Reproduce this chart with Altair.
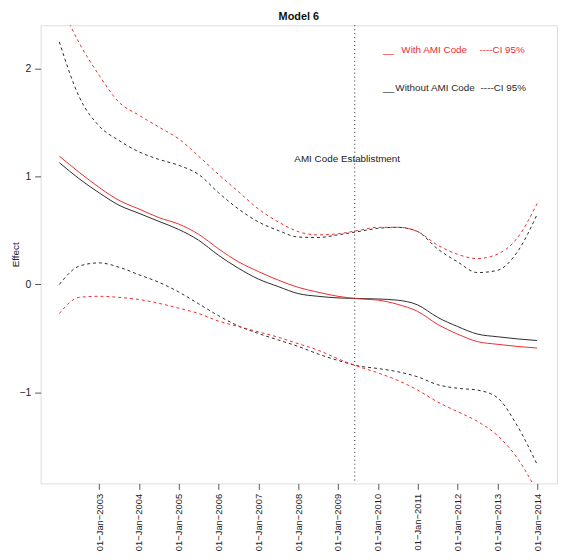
import altair as alt
import pandas as pd

# ---- data (x in decimal years) ----
years = [2002.0 + 0.5 * i for i in range(25)]

without_fit = [1.13, 0.98, 0.85, 0.735, 0.66, 0.585, 0.51, 0.41, 0.27, 0.15, 0.05, -0.02,
               -0.085, -0.11, -0.125, -0.13, -0.135, -0.146, -0.19, -0.305, -0.39, -0.46,
               -0.485, -0.505, -0.52]
without_upper = [2.25, 1.74, 1.47, 1.335, 1.23, 1.16, 1.105, 1.02, 0.85, 0.70, 0.58, 0.50,
                 0.44, 0.435, 0.46, 0.49, 0.52, 0.53, 0.49, 0.33, 0.21, 0.11, 0.13, 0.30, 0.65]
without_lower = [0.00, 0.17, 0.20, 0.16, 0.09, 0.02, -0.07, -0.18, -0.29, -0.385, -0.455,
                 -0.515, -0.575, -0.645, -0.705, -0.755, -0.78, -0.81, -0.857, -0.93, -0.963,
                 -0.98, -1.05, -1.31, -1.67]

with_fit = [1.19, 1.04, 0.90, 0.78, 0.70, 0.62, 0.56, 0.465, 0.33, 0.21, 0.12, 0.04,
            -0.027, -0.072, -0.11, -0.133, -0.145, -0.185, -0.25, -0.37, -0.46, -0.53,
            -0.555, -0.575, -0.59]
with_upper = [2.62, 2.24, 1.94, 1.69, 1.57, 1.46, 1.35, 1.19, 1.02, 0.86, 0.70, 0.58,
              0.49, 0.46, 0.47, 0.50, 0.53, 0.53, 0.49, 0.365, 0.28, 0.24, 0.28, 0.43, 0.75]
with_lower = [-0.27, -0.12, -0.11, -0.12, -0.14, -0.175, -0.22, -0.27, -0.34, -0.39, -0.44,
              -0.49, -0.55, -0.61, -0.69, -0.76, -0.82, -0.89, -0.98, -1.09, -1.18, -1.27,
              -1.40, -1.61, -1.92]

x_ticks = list(range(2003, 2015))
y_ticks = [-1, 0, 1, 2]
establishment_year = 2009.42

groups = ["without", "with"]
colors = ["#2a2a2a", "#f02a2a"]

fit_df = pd.DataFrame({
    "year": years * 2,
    "value": without_fit + with_fit,
    "group": ["without"] * 25 + ["with"] * 25,
    "curve": ["without_fit"] * 25 + ["with_fit"] * 25,
})
ci_df = pd.DataFrame({
    "year": years * 4,
    "value": without_upper + without_lower + with_upper + with_lower,
    "group": ["without"] * 50 + ["with"] * 50,
    "curve": ["wu"] * 25 + ["wl"] * 25 + ["hu"] * 25 + ["hl"] * 25,
})

FONT = "Liberation Sans"
xscale = alt.Scale(domain=[2001.53, 2014.5], nice=False, zero=False)
yscale = alt.Scale(domain=[-1.846, 2.404], nice=False, zero=False)
cscale = alt.Scale(domain=groups, range=colors)

x_axis = alt.Axis(values=x_ticks, labelExpr="'01\u2212Jan\u2212' + datum.value",
                  labelAngle=-90, labelFontSize=9.5, labelFont=FONT, labelColor="#222",
                  tickSize=6, tickColor="#555", labelPadding=4, domain=False, grid=False,
                  title=None, labelOverlap=False, labelFlush=False)
y_axis = alt.Axis(values=y_ticks, format="d", labelAngle=0, labelFontSize=10.5,
                  labelFont=FONT, labelColor="#222", tickSize=6, tickColor="#555",
                  labelPadding=4, domain=False, grid=False, title="Effect",
                  titleFont=FONT, titleFontSize=10, titleFontWeight="normal",
                  titleColor="#222", titleX=-20, titleY=232, titleAngle=270,
                  titleBaseline="bottom", titleAlign="center")

fits = alt.Chart(fit_df).mark_line(strokeWidth=1, interpolate="monotone", clip=True).encode(
    x=alt.X("year:Q", scale=xscale, axis=x_axis),
    y=alt.Y("value:Q", scale=yscale, axis=y_axis),
    color=alt.Color("group:N", scale=cscale, legend=None),
    detail="curve:N",
)
cis = alt.Chart(ci_df).mark_line(strokeWidth=1, strokeDash=[3, 3], interpolate="monotone",
                                 clip=True).encode(
    x=alt.X("year:Q", scale=xscale),
    y=alt.Y("value:Q", scale=yscale),
    color=alt.Color("group:N", scale=cscale, legend=None),
    detail="curve:N",
)
vline = alt.Chart(pd.DataFrame({"year": [establishment_year]})).mark_rule(
    color="#222", strokeWidth=1, strokeDash=[1, 3]).encode(
    x=alt.X("year:Q", scale=xscale))

est_text = alt.Chart(pd.DataFrame({"x": [2009.23], "y": [1.16],
                                   "t": ["AMI Code Establistment"]})).mark_text(
    align="center", baseline="middle", fontSize=10, font=FONT, color="#222").encode(
    x=alt.X("x:Q", scale=xscale), y=alt.Y("y:Q", scale=yscale), text="t:N")

legend_df = pd.DataFrame({
    "x": [2010.13, 2010.59, 2012.55, 2010.13, 2010.44, 2012.58],
    "y": [2.178, 2.178, 2.178, 1.825, 1.825, 1.825],
    "t": ["__", "With AMI Code", "----CI 95%", "__", "Without AMI Code", "----CI 95%"],
    "group": ["with"] * 3 + ["without"] * 3,
})
legend_text = alt.Chart(legend_df).mark_text(
    align="left", baseline="middle", fontSize=10, font=FONT).encode(
    x=alt.X("x:Q", scale=xscale), y=alt.Y("y:Q", scale=yscale), text="t:N",
    color=alt.Color("group:N", scale=cscale, legend=None))

chart = alt.layer(cis, fits, vline, est_text, legend_text).properties(
    width=523, height=464,
    title=alt.TitleParams("Model 6", fontSize=11, fontWeight="bold", font=FONT,
                          anchor="middle", offset=3, color="#111"),
    padding={"left": 33, "top": 14, "right": 2, "bottom": 72},
    autosize=alt.AutoSizeParams(type="none"),
).configure_view(stroke="#555", strokeWidth=1).configure(background="white")

chart.save("out.html", embed_options={"renderer": "svg", "actions": False})
